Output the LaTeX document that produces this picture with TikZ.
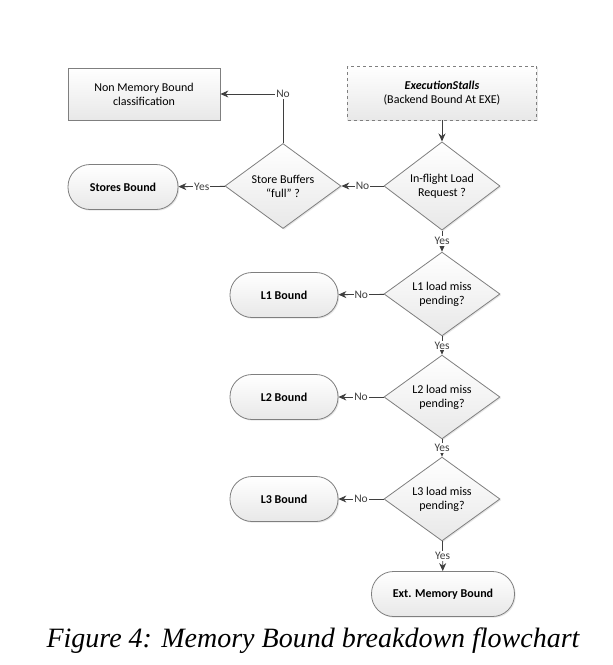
\documentclass[tikz,border=0pt]{standalone}
\usepackage{fontspec}
\setmainfont{Carlito}
\newfontfamily\capfont{Liberation Serif}
\usetikzlibrary{shapes.geometric,arrows.meta,shadows}
\definecolor{edgec}{HTML}{7F7F7F}
\definecolor{linec}{HTML}{3F3F3F}
\tikzset{
  shapebase/.style={draw=edgec, line width=0.8pt, top color=white, bottom color=black!9, align=center, font=\fontsize{12}{14}\selectfont,
    drop shadow={opacity=0.2, shadow xshift=1.2pt, shadow yshift=-1.2pt}},
  procbox/.style={shapebase, rectangle, minimum width=152pt, minimum height=52pt, inner sep=0pt},
  dashbox/.style={shapebase, rectangle, dashed, minimum width=189pt, minimum height=54pt, inner sep=0pt},
  decide/.style={shapebase, diamond, minimum width=116pt, minimum height=72pt, inner sep=0pt},
  term/.style={shapebase, rectangle, rounded corners=22pt, minimum height=45pt, inner sep=0pt, font=\fontsize{12}{14}\selectfont\bfseries},
  conn/.style={draw=linec, line width=0.8pt, -{Stealth[length=8pt,width=7pt]}},
  lbl/.style={fill=white, inner sep=1pt, font=\fontsize{11.5}{13}\selectfont, text=linec}
}
\begin{document}
\begin{tikzpicture}[x=1pt,y=-1pt]
\useasboundingbox (0,0) rectangle (613,665);
\node[procbox] (nonmem) at (144,94) {Non Memory Bound\\classification};
\node[dashbox] (exec) at (442,93) {\textbf{\textit{ExecutionStalls}}\\(Backend Bound At EXE)};
\node[decide] (inflight) at (442,186) {In-flight Load\\Request ?};
\node[decide] (store) at (283,186) {Store Buffers\\``full'' ?};
\node[term, minimum width=110pt] (storesb) at (123,187) {Stores Bound};
\node[decide] (l1) at (442,294) {L1 load miss\\pending?};
\node[term, minimum width=108pt] (l1b) at (284,295) {L1 Bound};
\node[decide] (l2) at (442,397) {L2 load miss\\pending?};
\node[term, minimum width=108pt] (l2b) at (284,397) {L2 Bound};
\node[decide] (l3) at (442,499) {L3 load miss\\pending?};
\node[term, minimum width=108pt] (l3b) at (284,499) {L3 Bound};
\node[term, minimum width=143pt] (ext) at (443,594) {Ext. Memory Bound};
\node[font=\capfont\itshape\fontsize{28}{32}\selectfont, inner sep=0pt] (cap) at (313,641) {Figure 4: Memory Bound breakdown flowchart};

\coordinate (corner) at (store.north |- nonmem.east);
\draw[conn] (exec) -- (inflight);
\draw[conn] (inflight) -- node[lbl]{No} (store);
\draw[conn] (store) -- node[lbl]{Yes} (storesb);
\draw[conn] (store.north) -- (corner) node[lbl]{No} -- (nonmem.east);
\draw[conn] (inflight) -- node[lbl]{Yes} (l1);
\draw[conn] (l1) -- node[lbl]{No} (l1b);
\draw[conn] (l1) -- node[lbl]{Yes} (l2);
\draw[conn] (l2) -- node[lbl]{No} (l2b);
\draw[conn] (l2) -- node[lbl]{Yes} (l3);
\draw[conn] (l3) -- node[lbl]{No} (l3b);
\draw[conn] (l3) -- node[lbl]{Yes} (ext);
\end{tikzpicture}
\end{document}
